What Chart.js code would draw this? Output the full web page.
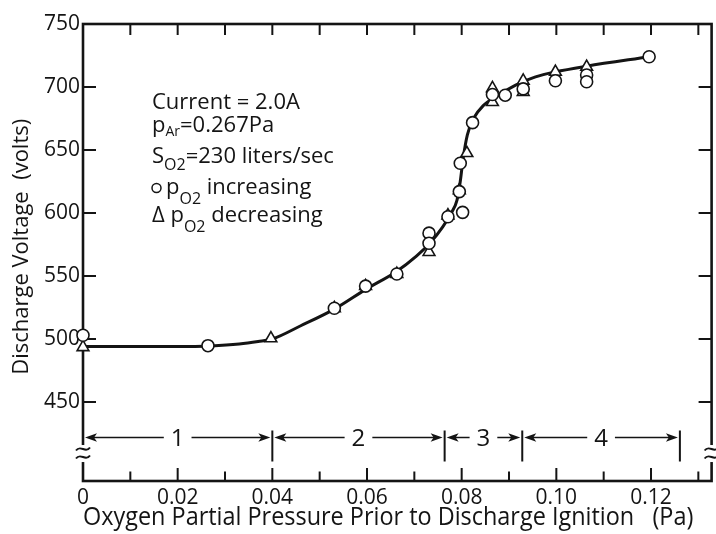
<!DOCTYPE html>
<html>
<head>
<meta charset="utf-8">
<script src="https://cdn.jsdelivr.net/npm/chart.js@4.4.1/dist/chart.umd.min.js"></script>
<style>
  html, body { margin: 0; padding: 0; background: #fff; overflow: hidden; }
  #wrap { position: relative; width: 720px; height: 534px; }
</style>
</head>
<body>
<div id="wrap"><canvas id="voltage-chart"></canvas></div>
<script>
(function() {
    'use strict';

    // axis ticks
    const xTickValues = [0, 0.02, 0.04, 0.06, 0.08, 0.10, 0.12];
    const xTickLabels = ['0', '0.02', '0.04', '0.06', '0.08', '0.10', '0.12'];
    const xMinorTicks = [0.01, 0.03, 0.05, 0.07, 0.09, 0.11, 0.13];
    const yTickValues = [450, 500, 550, 600, 650, 700, 750];
    const yTickLabels = ['450', '500', '550', '600', '650', '700', '750'];

    // measured discharge voltage, O2 pressure rising
    const increasingX = [0, 0.0264, 0.0531, 0.0597, 0.0663, 0.0731, 0.0731, 0.0771, 0.0802, 0.0795, 0.0797, 0.0823, 0.0865, 0.0892, 0.0930, 0.0998, 0.1064, 0.1064, 0.1196];
    const increasingY = [503, 494.7, 524.4, 542, 551.6, 584, 576, 597, 600.5, 617, 639.5, 671.7, 694, 693.5, 698.5, 705, 709.5, 704.2, 724];

    // measured discharge voltage, O2 pressure falling
    const decreasingX = [0, 0.0397, 0.0531, 0.0597, 0.0663, 0.0731, 0.0771, 0.0795, 0.0811, 0.0865, 0.0865, 0.0930, 0.0930, 0.0998, 0.1064];
    const decreasingY = [493.5, 500.5, 524.4, 542, 551.6, 569, 598, 618, 647.5, 699, 688, 705, 696, 712, 716];

    // hand-drawn trend curve
    const curveX = [0, 0.010, 0.020, 0.027, 0.033, 0.037, 0.040, 0.046, 0.053, 0.060, 0.066, 0.0705, 0.0735, 0.0760, 0.0778, 0.0790, 0.0797, 0.0803, 0.0812, 0.0825, 0.0845, 0.0880, 0.0914, 0.0956, 0.0998, 0.1064, 0.1196];
    const curveY = [494, 494, 494, 494.5, 496, 498, 500, 510.5, 523.5, 540, 553, 566, 577, 589, 600, 610, 625, 643, 662, 675, 685, 694, 701.5, 708, 712, 716.5, 724];

    // discharge regions along the pressure axis
    const regionEdges = [0, 0.04, 0.0764, 0.0928, 0.1261];
    const regionLabels = ['1', '2', '3', '4'];
    const regionLevel = 421.8;
    const breakLevel = 409.5;

    const xMax = 0.1328;
    const yMin = 387.3;
    const yMax = 750;

    const ink = '#141414';
    const family = "'Open Sans', 'DejaVu Sans', sans-serif";

    function points(xs, ys) {
        return xs.map((x, i) => ({ x: x, y: ys[i] }));
    }

    function arrowHead(ctx, x, y, dir) {
        ctx.beginPath();
        ctx.moveTo(x, y);
        ctx.lineTo(x - dir * 12, y - 4.2);
        ctx.lineTo(x - dir * 9, y);
        ctx.lineTo(x - dir * 12, y + 4.2);
        ctx.closePath();
        ctx.fill();
    }

    function tilde(ctx, cx, cy, w) {
        ctx.beginPath();
        ctx.moveTo(cx - w, cy + 1.5);
        ctx.bezierCurveTo(cx - w / 3, cy - 5, cx + w / 3, cy + 5, cx + w, cy - 1.5);
        ctx.stroke();
    }

    // text runs with subscripts: [text, size, baseline shift]
    function drawRuns(ctx, x, y, runs) {
        runs.forEach(run => {
            ctx.font = run[1] + 'px ' + family;
            ctx.fillText(run[0], x, y + (run[2] || 0));
            x += ctx.measureText(run[0]).width;
        });
    }

    const framePlugin = {
        id: 'frame',
        beforeDatasetsDraw(chart) {
            const ctx = chart.ctx;
            const a = chart.chartArea;
            const xs = chart.scales.x;
            const ys = chart.scales.y;
            ctx.save();
            ctx.strokeStyle = ink;
            ctx.fillStyle = ink;

            // plot frame
            ctx.lineWidth = 2.6;
            ctx.strokeRect(a.left, a.top, a.right - a.left, a.bottom - a.top);

            // inward tick marks
            ctx.lineWidth = 2;
            ctx.beginPath();
            yTickValues.forEach(v => {
                const py = ys.getPixelForValue(v);
                ctx.moveTo(a.left, py);
                ctx.lineTo(a.left + 13, py);
                ctx.moveTo(a.right, py);
                ctx.lineTo(a.right - 13, py);
            });
            xTickValues.forEach(v => {
                const px = xs.getPixelForValue(v);
                ctx.moveTo(px, a.bottom);
                ctx.lineTo(px, a.bottom - 13);
                ctx.moveTo(px, a.top);
                ctx.lineTo(px, a.top + 11);
            });
            xMinorTicks.forEach(v => {
                const px = xs.getPixelForValue(v);
                ctx.moveTo(px, a.bottom);
                ctx.lineTo(px, a.bottom - 9.5);
                ctx.moveTo(px, a.top);
                ctx.lineTo(px, a.top + 11);
            });
            ctx.stroke();

            // axis breaks on both vertical axes
            const by = ys.getPixelForValue(breakLevel);
            [a.left, a.right].forEach(bx => {
                ctx.fillStyle = '#fff';
                ctx.fillRect(bx - 4, by - 8, 8, 17);
                ctx.fillStyle = ink;
                ctx.lineWidth = 2;
                tilde(ctx, bx, by - 4, 7);
                tilde(ctx, bx, by + 4, 7);
            });

            // region arrows
            const ry = ys.getPixelForValue(regionLevel);
            ctx.font = '24px ' + family;
            ctx.textAlign = 'center';
            ctx.textBaseline = 'middle';
            regionLabels.forEach((label, i) => {
                const x0 = xs.getPixelForValue(regionEdges[i]) + 2;
                const x1 = xs.getPixelForValue(regionEdges[i + 1]) - 2;
                const xm = (x0 + x1) / 2;
                const half = ctx.measureText(label).width / 2 + 7;
                ctx.lineWidth = 1.6;
                ctx.beginPath();
                ctx.moveTo(x0 + 6, ry);
                ctx.lineTo(xm - half, ry);
                ctx.moveTo(xm + half, ry);
                ctx.lineTo(x1 - 6, ry);
                ctx.stroke();
                arrowHead(ctx, x0, ry, -1);
                arrowHead(ctx, x1, ry, 1);
                ctx.fillText(label, xm, ry + 2);
            });
            ctx.lineWidth = 2;
            ctx.beginPath();
            regionEdges.slice(1).forEach(v => {
                const px = xs.getPixelForValue(v);
                ctx.moveTo(px, ry - 7);
                ctx.lineTo(px, ry + 24);
            });
            ctx.stroke();
            ctx.restore();
        },
        afterDraw(chart) {
            const ctx = chart.ctx;
            ctx.save();
            ctx.fillStyle = ink;
            ctx.strokeStyle = ink;
            ctx.textAlign = 'left';
            ctx.textBaseline = 'alphabetic';

            drawRuns(ctx, 152, 109, [['Current = 2.0A', 22]]);
            drawRuns(ctx, 152, 131.5, [['p', 22], ['Ar', 14, 4.5], ['=0.267Pa', 22]]);
            drawRuns(ctx, 152, 163, [['S', 22], ['O', 16, 7], ['2', 16, 7], ['=230 liters/sec', 22]]);

            ctx.lineWidth = 1.5;
            ctx.beginPath();
            ctx.arc(156.5, 188, 4.5, 0, Math.PI * 2);
            ctx.stroke();
            drawRuns(ctx, 166, 194, [['p', 22], ['O', 16, 10], ['2', 16, 10], [' increasing', 22]]);
            drawRuns(ctx, 152, 221.5, [['Δ', 22], [' p', 22], ['O', 16, 10], ['2', 16, 10], [' decreasing', 22]]);
            ctx.restore();
        }
    };

    const tickFont = { family: family, size: 21 };

    new Chart(document.getElementById('voltage-chart'), {
        type: 'scatter',
        data: {
            datasets: [{
                label: 'pO2 increasing',
                data: points(increasingX, increasingY),
                pointStyle: 'circle',
                pointRadius: 6,
                pointBorderWidth: 1.6,
                pointBackgroundColor: '#fff',
                pointBorderColor: ink,
                showLine: false,
                clip: false
            }, {
                label: 'pO2 decreasing',
                data: points(decreasingX, decreasingY),
                pointStyle: 'triangle',
                pointRadius: 6.8,
                pointBorderWidth: 1.6,
                pointBackgroundColor: '#fff',
                pointBorderColor: ink,
                showLine: false,
                clip: false
            }, {
                label: 'trend',
                data: points(curveX, curveY),
                showLine: true,
                pointRadius: 0,
                borderColor: ink,
                borderWidth: 3,
                cubicInterpolationMode: 'monotone',
                clip: false
            }]
        },
        options: {
            responsive: true,
            maintainAspectRatio: false,
            animation: false,
            events: [],
            layout: {
                padding: { top: 24, right: 2, left: 0, bottom: 0 }
            },
            plugins: {
                legend: { display: false },
                tooltip: { enabled: false }
            },
            scales: {
                x: {
                    type: 'linear',
                    min: 0,
                    max: xMax,
                    afterBuildTicks: function(scale) {
                        scale.ticks = xTickValues.map(v => ({ value: v }));
                    },
                    afterFit: function(scale) {
                        scale.height = 53;
                    },
                    ticks: {
                        autoSkip: false,
                        maxRotation: 0,
                        padding: 4,
                        color: ink,
                        font: tickFont,
                        callback: function(value, index) {
                            return xTickLabels[index];
                        }
                    },
                    grid: { display: false, drawTicks: false },
                    border: { display: false },
                    title: {
                        display: true,
                        text: 'Oxygen Partial Pressure Prior to Discharge Ignition   (Pa)   ',
                        color: ink,
                        font: { family: family, size: 25 },
                        padding: { top: 0, bottom: 1 }
                    }
                },
                y: {
                    type: 'linear',
                    min: yMin,
                    max: yMax,
                    afterBuildTicks: function(scale) {
                        scale.ticks = yTickValues.map(v => ({ value: v }));
                    },
                    afterFit: function(scale) {
                        scale.width = 83;
                    },
                    ticks: {
                        autoSkip: false,
                        padding: 3,
                        color: ink,
                        font: tickFont,
                        callback: function(value, index) {
                            return yTickLabels[index];
                        }
                    },
                    grid: { display: false, drawTicks: false },
                    border: { display: false },
                    title: {
                        display: true,
                        text: '  Discharge Voltage  (volts)',
                        color: ink,
                        font: { family: family, size: 22 },
                        padding: { top: 9, bottom: 0 }
                    }
                }
            }
        },
        plugins: [framePlugin]
    });
})();
</script>
</body>
</html>
